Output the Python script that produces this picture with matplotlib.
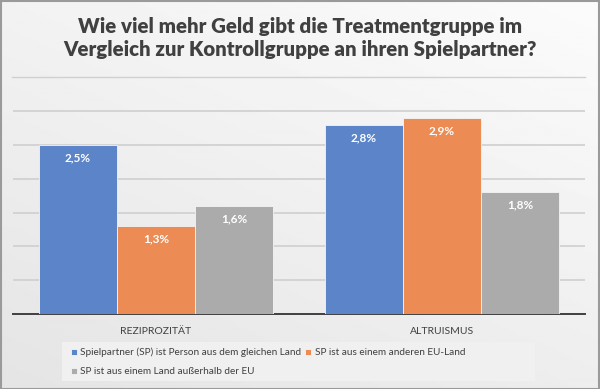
import numpy as np
import matplotlib.pyplot as plt
from matplotlib.patches import Rectangle

# Daten
kategorien = ["REZIPROZITÄT", "ALTRUISMUS"]
serien = ["Spielpartner (SP) ist Person aus dem gleichen Land",
          "SP ist aus einem anderen EU-Land",
          "SP ist aus einem Land außerhalb der EU"]
gleiches_land = [2.5, 2.8]
anderes_eu_land = [1.3, 2.9]
ausserhalb_eu = [1.6, 1.8]
labels_gleich = ["2,5%", "2,8%"]
labels_eu = ["1,3%", "2,9%"]
labels_ausser = ["1,6%", "1,8%"]

farben = ["#5B84C9", "#EC8B53", "#ABABAB"]
titel = "Wie viel mehr Geld gibt die Treatmentgruppe im\nVergleich zur Kontrollgruppe an ihren Spielpartner?"

plt.rcParams['font.family'] = ['Lato', 'DejaVu Sans']

fig = plt.figure(figsize=(6.0, 3.89), dpi=100)
W, H = 600, 389

# Hintergrund mit Verlauf
bg = fig.add_axes([0, 0, 1, 1], zorder=-10)
yy, xx = np.mgrid[0:1:200j, 0:1:200j]
grad = 0.985 - 0.09 * (0.6 * yy + 0.4 * (1 - xx))
bg.imshow(grad, cmap='gray', vmin=0, vmax=1, extent=[0, 1, 0, 1], aspect='auto', origin='upper')
bg.add_patch(Rectangle((0.001, 0.001), 0.997, 0.996, fill=False, ec="#9a9a9a", lw=1.5,
                       transform=bg.transAxes))
bg.axhline(1 - 77 / H, xmin=12 / W, xmax=585 / W, color="#d0d0d0", lw=1)
# Legendenfeld
bg.add_patch(Rectangle((62 / W, 1 - 381 / H), (535 - 62) / W, 39 / H,
                       fc="#f0f0f0", ec="none", transform=bg.transAxes))
bg.set_xlim(0, 1)
bg.set_ylim(0, 1)
bg.axis('off')

# Plotbereich
x0, x1 = 13 / W, 585 / W
y_base = 1 - 314 / H
y_top = 1 - 101 / H
ax = fig.add_axes([x0, y_base, x1 - x0, y_top - y_base])
ax.patch.set_alpha(0)

x = np.arange(len(kategorien))
b = 0.273
werte = [gleiches_land, anderes_eu_land, ausserhalb_eu]
texte = [labels_gleich, labels_eu, labels_ausser]
for i, (v, t) in enumerate(zip(werte, texte)):
    pos = x + (i - 1) * b
    ax.bar(pos, v, width=b, color=farben[i], edgecolor="#f4f4f4", linewidth=0.6,
           label=serien[i], zorder=3)
    for px, pv, pt in zip(pos, v, t):
        ax.text(px, pv - 0.11, pt, ha='center', va='top', color='white',
                fontsize=8.5, fontweight='bold', zorder=4)

ax.set_xlim(-0.5, 1.5)
ax.set_ylim(0, 3.15)
ax.set_yticks([0.5, 1.0, 1.5, 2.0, 2.5, 3.0])
ax.yaxis.grid(True, color="#cfcfcf", lw=1.2, zorder=0)
ax.tick_params(axis='y', left=False, labelleft=False)
ax.tick_params(axis='x', bottom=False, labelsize=7.5, labelcolor="#404040", pad=6)
ax.set_xticks(x)
ax.set_xticklabels(kategorien)
for s in ['top', 'left', 'right']:
    ax.spines[s].set_visible(False)
ax.spines['bottom'].set_color("#404040")
ax.spines['bottom'].set_linewidth(1.4)

fig.text(0.5, 1 - 38 / H, titel, ha='center', va='center', fontsize=14.7,
         fontweight='heavy', color="#404040", linespacing=1.3)

h, l = ax.get_legend_handles_labels()
order = [0, 2, 1]
leg = fig.legend([h[k] for k in order], [l[k] for k in order], ncol=2,
                 loc='center left', bbox_to_anchor=(63 / W, 1 - 362 / H),
                 fontsize=7.2, frameon=False, handlelength=0.6, handleheight=0.6,
                 handletextpad=0.35, columnspacing=0.35, labelspacing=1.0,
                 borderpad=0.3)
for txt in leg.get_texts():
    txt.set_color("#404040")

fig.savefig("out.png", dpi=100)
